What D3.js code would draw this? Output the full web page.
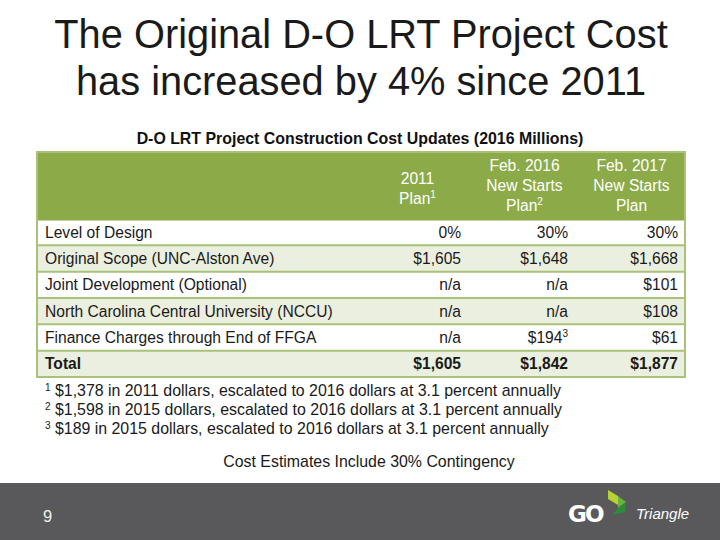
<!DOCTYPE html>
<html><head><meta charset="utf-8">
<script src="https://cdn.jsdelivr.net/npm/d3@7"></script>
<style>body{margin:0;background:#fff}svg{display:block}</style>
</head><body>
<script>
const titleLines = ["The Original D-O LRT Project Cost", "has increased by 4% since 2011"];
const tableTitle = "D-O LRT Project Construction Cost Updates (2016 Millions)";
const columns = [
  {lines: ["2011", "Plan"], sup: "1"},
  {lines: ["Feb. 2016", "New Starts", "Plan"], sup: "2"},
  {lines: ["Feb. 2017", "New Starts", "Plan"], sup: ""}
];
const rowLabels = ["Level of Design", "Original Scope (UNC-Alston Ave)", "Joint Development (Optional)",
  "North Carolina Central University (NCCU)", "Finance Charges through End of FFGA", "Total"];
const designLevel = [0, 30, 30];
const plan2011 = [1605, null, null, null, 1605];
const plan2016 = [1648, null, null, 194, 1842];
const plan2017 = [1668, 101, 108, 61, 1877];
const valueSups = [["", "", "", "", ""], ["", "", "", "3", ""], ["", "", "", "", ""]];
const footnotes = [
  ["1", "$1,378 in 2011 dollars, escalated to 2016 dollars at 3.1 percent annually"],
  ["2", "$1,598 in 2015 dollars, escalated to 2016 dollars at 3.1 percent annually"],
  ["3", "$189 in 2015 dollars, escalated to 2016 dollars at 3.1 percent annually"]
];
const contingency = "Cost Estimates Include 30% Contingency";
const pageNumber = "9";

const W = 720, H = 540;
const svg = d3.select("body").append("svg").attr("width", W).attr("height", H);
const font = "'Liberation Sans', Arial, sans-serif";
const fs = 15.6;

// Title
svg.append("g").selectAll("text").data(titleLines).join("text")
  .attr("x", 361).attr("y", (d, i) => 48 + i * 47)
  .attr("text-anchor", "middle").attr("font-family", font).attr("font-size", 39.8)
  .attr("fill", "#1a1a1a").text(d => d);

svg.append("text").attr("x", 360).attr("y", 144).attr("text-anchor", "middle")
  .attr("font-family", font).attr("font-size", 15.9).attr("font-weight", "bold")
  .attr("fill", "#111").text(tableTitle);

// Table geometry via scales
const tLeft = 37, tRight = 685, headTop = 152, headBottom = 219, tBottom = 377;
const rowScale = d3.scaleBand().domain(d3.range(rowLabels.length)).range([headBottom, tBottom]);
const colScale = d3.scaleBand().domain(d3.range(columns.length)).range([364, tRight]);

const g = svg.append("g");
g.append("rect").attr("x", tLeft).attr("y", headTop).attr("width", tRight - tLeft).attr("height", headBottom - headTop)
  .attr("fill", "#8cab48");
g.selectAll("rect.row").data(rowLabels).join("rect").attr("class", "row")
  .attr("x", tLeft).attr("y", (d, i) => rowScale(i)).attr("width", tRight - tLeft).attr("height", rowScale.bandwidth())
  .attr("fill", (d, i) => i % 2 ? "#eaefdf" : "#ffffff");
g.selectAll("line.rl").data(d3.range(rowLabels.length)).join("line").attr("class", "rl")
  .attr("x1", tLeft).attr("x2", tRight).attr("y1", i => rowScale(i)).attr("y2", i => rowScale(i))
  .attr("stroke", "#a9c178").attr("stroke-width", 2);
g.append("line").attr("x1", tLeft).attr("x2", tRight).attr("y1", headBottom).attr("y2", headBottom)
  .attr("stroke", "#8cab48").attr("stroke-width", 3);
g.append("rect").attr("x", tLeft).attr("y", headTop).attr("width", tRight - tLeft).attr("height", tBottom - headTop)
  .attr("fill", "none").attr("stroke", "#a9c178").attr("stroke-width", 2);

// Header text
columns.forEach((c, ci) => {
  const cx = colScale(ci) + colScale.bandwidth() / 2;
  const n = c.lines.length;
  const startY = n === 2 ? 184 : 170.5;
  c.lines.forEach((ln, li) => {
    const t = g.append("text").attr("x", cx).attr("y", startY + li * 20).attr("text-anchor", "middle")
      .attr("font-family", font).attr("font-size", fs).attr("fill", "#ffffff").text(ln);
    if (li === n - 1 && c.sup) t.append("tspan").attr("font-size", 10).attr("dy", -6).text(c.sup);
  });
});

// Row labels
g.selectAll("text.rlab").data(rowLabels).join("text").attr("class", "rlab")
  .attr("x", 45).attr("y", (d, i) => rowScale(i) + rowScale.bandwidth() / 2 + 5.5)
  .attr("font-family", font).attr("font-size", fs).attr("font-weight", (d, i) => i === rowLabels.length - 1 ? "bold" : "normal")
  .attr("fill", "#1a1a1a").text(d => d);

// Values
const fmt = d3.format("$,");
const series = [plan2011, plan2016, plan2017];
const rightEdges = [461, 568, 678];
series.forEach((vals, ci) => {
  const cells = [designLevel[ci] + "%"].concat(vals.map(v => v == null ? "n/a" : fmt(v)));
  const sups = [""].concat(valueSups[ci]);
  cells.forEach((txt, ri) => {
    const t = g.append("text").attr("x", rightEdges[ci]).attr("y", rowScale(ri) + rowScale.bandwidth() / 2 + 5.5)
      .attr("text-anchor", "end").attr("font-family", font).attr("font-size", fs)
      .attr("font-weight", ri === rowLabels.length - 1 ? "bold" : "normal").attr("fill", "#1a1a1a").text(txt);
    if (sups[ri]) t.append("tspan").attr("font-size", 10).attr("dy", -6).text(sups[ri]);
  });
});

// Footnotes
const fn = svg.append("g");
footnotes.forEach((f, i) => {
  const t = fn.append("text").attr("x", 45).attr("y", 395.5 + i * 19).attr("font-family", font)
    .attr("font-size", 15.9).attr("fill", "#1a1a1a");
  t.append("tspan").attr("font-size", 10).attr("dy", -5).text(f[0]);
  t.append("tspan").attr("dy", 5).text(" " + f[1]);
});
svg.append("text").attr("x", 369).attr("y", 466.5).attr("text-anchor", "middle").attr("font-family", font)
  .attr("font-size", 15.9).attr("fill", "#1a1a1a").text(contingency);

// Footer
svg.append("rect").attr("x", 0).attr("y", 483).attr("width", W).attr("height", H - 483).attr("fill", "#59595b");
svg.append("text").attr("x", 43).attr("y", 522).attr("font-family", font).attr("font-size", 16.5)
  .attr("fill", "#f0f0f0").text(pageNumber);

// Logo
const logo = svg.append("g");
logo.append("text").attr("x", 568).attr("y", 522).attr("font-family", "'DejaVu Sans', sans-serif")
  .attr("font-size", 23).attr("font-weight", "bold").attr("letter-spacing", -2).attr("fill", "#ffffff").text("GO");
logo.append("path").attr("d", "M608,490 L618,496 L618,505 L608,499 Z").attr("fill", "#b5d334");
logo.append("path").attr("d", "M618,496 L626,502 L618,508 Z").attr("fill", "#6cb33e");
logo.append("path").attr("d", "M618,508 L626,502 L625,512 L612,515 Z").attr("fill", "#2e8b3e");
logo.append("text").attr("x", 636).attr("y", 519).attr("font-family", font).attr("font-style", "italic")
  .attr("font-size", 15).attr("fill", "#ffffff").text("Triangle");
</script>
</body></html>
